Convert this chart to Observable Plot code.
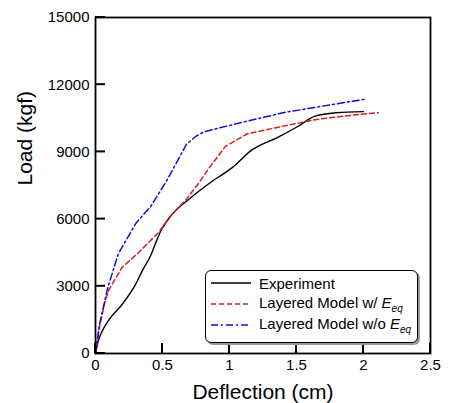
<!DOCTYPE html>
<html>
<head>
<meta charset="utf-8">
<script src="https://cdn.jsdelivr.net/npm/d3@7"></script>
<script src="https://cdn.jsdelivr.net/npm/@observablehq/plot@0.6"></script>
<style>
  body { margin: 0; background: #fff; }
  #wrap { position: relative; width: 449px; height: 403px; font-family: "Liberation Sans", Arial, sans-serif; }
  #legend { position: absolute; left: 205px; top: 270px; width: 211px; height: 71px; border: 1.5px solid #000; border-radius: 6px; background: #fff; box-shadow: 2px 2px 0 #999; }
  .row { position: absolute; left: 5px; height: 20px; display: flex; align-items: center; font-size: 15px; color: #000; white-space: nowrap; }
  .row svg { margin-right: 8px; }
  sub { font-size: 10px; vertical-align: -4px; }
</style>
</head>
<body>
<div id="wrap"></div>
<script>
const xTicks = [0, 0.5, 1, 1.5, 2, 2.5];
const yTicks = [0, 3000, 6000, 9000, 12000, 15000];

const experimentX = [0, 0.02, 0.05, 0.1, 0.2, 0.3, 0.35, 0.41, 0.45, 0.49, 0.57, 0.7, 0.85, 1.02, 1.17, 1.36, 1.5, 1.64, 1.8, 2.0];
const experimentY = [0, 550, 1000, 1500, 2200, 3100, 3700, 4350, 4950, 5500, 6200, 6900, 7600, 8300, 9100, 9650, 10100, 10600, 10750, 10800];

const withEeqX = [0, 0.03, 0.07, 0.1, 0.2, 0.32, 0.47, 0.57, 0.68, 0.77, 0.85, 0.97, 1.13, 1.4, 1.65, 1.9, 2.11];
const withEeqY = [0, 1200, 2300, 2850, 3850, 4500, 5400, 6200, 6900, 7600, 8300, 9250, 9800, 10150, 10450, 10630, 10750];

const withoutEeqX = [0, 0.03, 0.09, 0.17, 0.3, 0.41, 0.53, 0.68, 0.75, 0.81, 1.08, 1.4, 1.65, 2.01];
const withoutEeqY = [0, 1300, 2900, 4450, 5800, 6550, 7700, 9350, 9700, 9900, 10300, 10750, 11000, 11350];

const toRows = (xs, ys) => xs.map((x, i) => ({x, y: ys[i]}));
const font = "'Liberation Sans', Arial, sans-serif";

const chart = Plot.plot({
  width: 449,
  height: 403,
  marginLeft: 95,
  marginRight: 19,
  marginTop: 17,
  marginBottom: 50,
  style: { fontFamily: font, fontSize: "15px", background: "#fff" },
  x: { domain: [0, 2.5] },
  y: { domain: [0, 15000] },
  marks: [
    Plot.axisX({ ticks: xTicks, tickSize: 0, tickPadding: 6, tickFormat: d => String(d), label: null, fontSize: 15, fill: "#000" }),
    Plot.axisY({ ticks: yTicks, tickSize: 0, tickPadding: 6, tickFormat: d => String(d), label: null, fontSize: 15, fill: "#000" }),
    Plot.line(toRows(experimentX, experimentY), { x: "x", y: "y", stroke: "#000", strokeWidth: 1.4, curve: "monotone-x" }),
    Plot.line(toRows(withEeqX, withEeqY), { x: "x", y: "y", stroke: "#d81e1e", strokeWidth: 1.5, strokeDasharray: "5,3" }),
    Plot.line(toRows(withoutEeqX, withoutEeqY), { x: "x", y: "y", stroke: "#1010d0", strokeWidth: 1.5, strokeDasharray: "7,3,2,3" }),
    Plot.frame({ stroke: "#000", strokeWidth: 1.8 }),
    Plot.text(["Deflection (cm)"], { frameAnchor: "bottom", dy: 45, text: d => d, fontSize: 21, fill: "#000" }),
    Plot.text(["Load (kgf)"], { frameAnchor: "left", dx: -70, rotate: -90, text: d => d, fontSize: 21, fill: "#000" })
  ]
});

// Inward ticks drawn from the chart's own scales
const sx = chart.scale("x");
const sy = chart.scale("y");
const x0 = sx.apply(0), y0 = sy.apply(0);
const tickLen = 10;
const svg = d3.select(chart);
const g = svg.append("g").attr("stroke", "#000").attr("stroke-width", 2);
g.selectAll("line.xt").data(xTicks).join("line")
  .attr("x1", d => sx.apply(d)).attr("x2", d => sx.apply(d))
  .attr("y1", y0).attr("y2", y0 - tickLen);
g.selectAll("line.yt").data(yTicks).join("line")
  .attr("x1", x0).attr("x2", x0 + tickLen)
  .attr("y1", d => sy.apply(d)).attr("y2", d => sy.apply(d));

const wrap = document.getElementById("wrap");
wrap.appendChild(chart);

const legendItems = [
  { label: "Experiment", color: "#000", dash: "none" },
  { label: "Layered Model w/ <i>E</i><sub><i>eq</i></sub>", color: "#d81e1e", dash: "5,3" },
  { label: "Layered Model w/o <i>E</i><sub><i>eq</i></sub>", color: "#1010d0", dash: "7,3,2,3" }
];
const legend = document.createElement("div");
legend.id = "legend";
legendItems.forEach((item, i) => {
  const row = document.createElement("div");
  row.className = "row";
  row.style.top = (2 + i * 21) + "px";
  row.innerHTML = `<svg width="40" height="10"><line x1="0" y1="5" x2="40" y2="5" stroke="${item.color}" stroke-width="1.4" stroke-dasharray="${item.dash}"/></svg><span>${item.label}</span>`;
  legend.appendChild(row);
});
wrap.appendChild(legend);
</script>
</body>
</html>
